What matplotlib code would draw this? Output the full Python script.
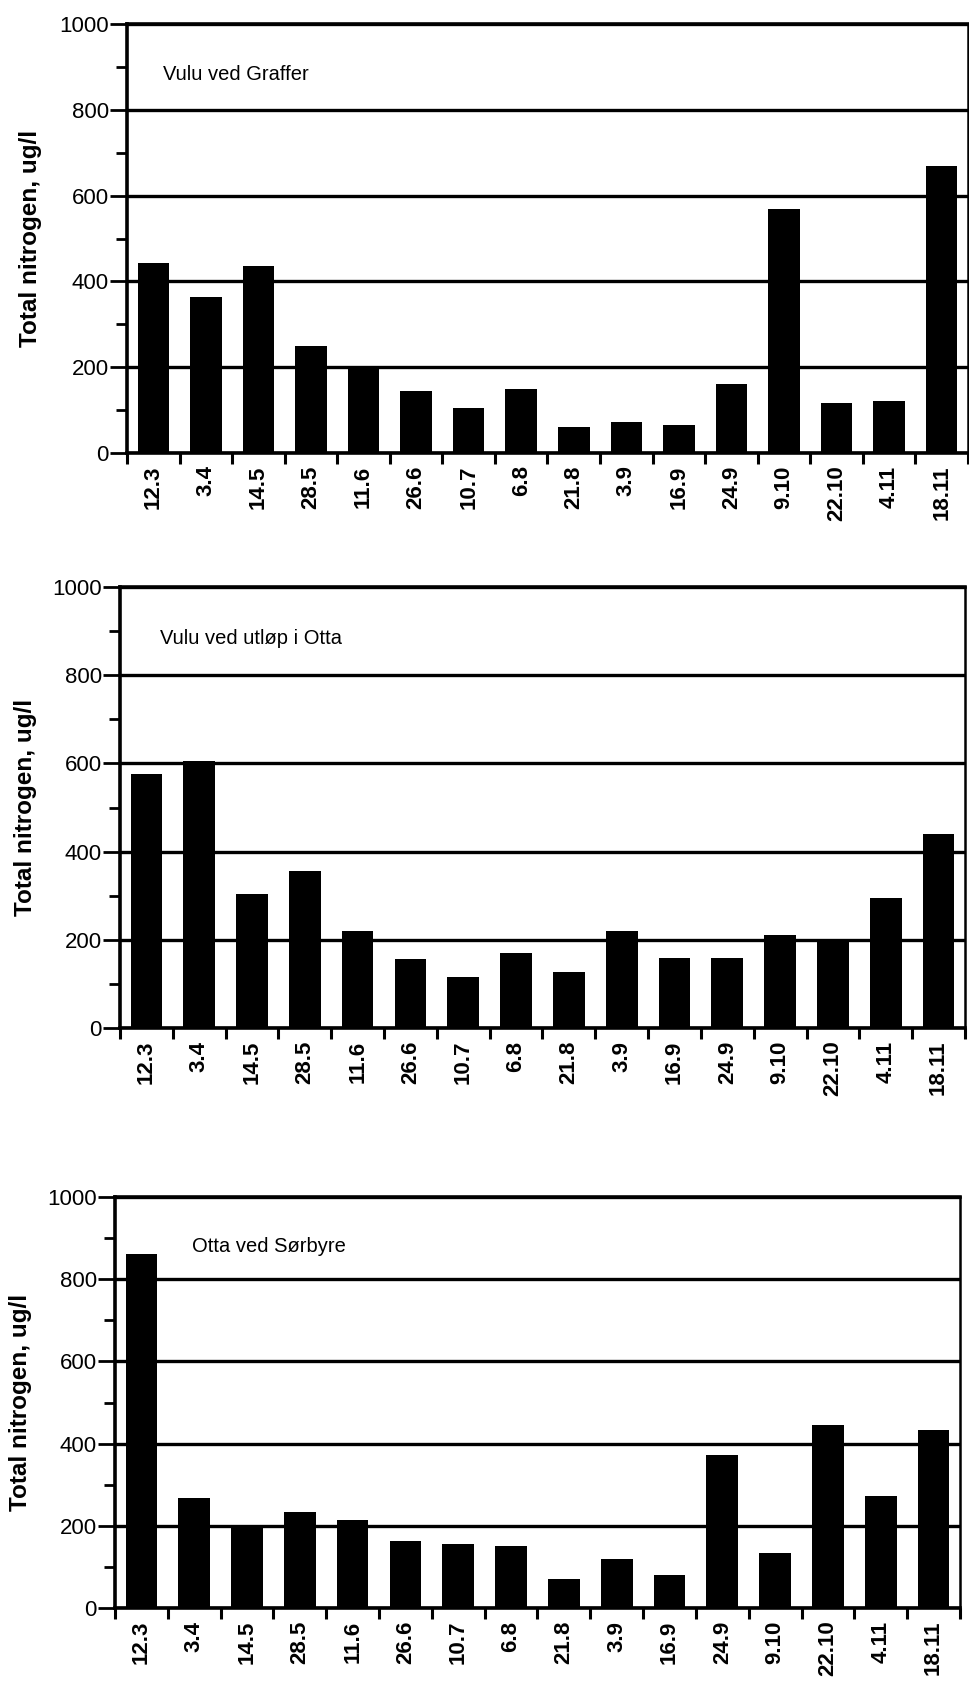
import numpy as np
import matplotlib
matplotlib.use("Agg")
import matplotlib.pyplot as plt
from matplotlib import font_manager

# sampling dates (day.month)
dates = ["12.3", "3.4", "14.5", "28.5", "11.6", "26.6", "10.7", "6.8",
         "21.8", "3.9", "16.9", "24.9", "9.10", "22.10", "4.11", "18.11"]

# total nitrogen, ug/l
vulu_graffer = [444, 364, 437, 249, 200, 144, 106, 150, 61, 73, 66, 160, 568, 116, 122, 670]
vulu_otta = [575, 605, 303, 355, 219, 157, 115, 170, 128, 220, 158, 158, 210, 196, 295, 440]
otta_sorbyre = [862, 268, 198, 233, 215, 162, 155, 150, 70, 120, 80, 372, 135, 446, 273, 432]

titles = ["Vulu ved Graffer", "Vulu ved utløp i Otta", "Otta ved Sørbyre"]
ylabel = "Total nitrogen, ug/l"

# pick a narrow font for the station names if there is one
names = {f.name for f in font_manager.fontManager.ttflist}
if "Liberation Sans Narrow" in names:
    title_font, title_size = "Liberation Sans Narrow", 17
else:
    title_font, title_size = "Liberation Sans", 14.5

fig = plt.figure(figsize=(9.70, 16.91), dpi=100)

# axes boxes in figure fractions: left, bottom, width, height
boxes = [
    (127 / 970, 1 - 453 / 1691, 841 / 970, 429 / 1691),
    (120 / 970, 1 - 1028 / 1691, 845 / 970, 441 / 1691),
    (115 / 970, 1 - 1608 / 1691, 845 / 970, 411 / 1691),
]
# right edge of the rotated y label, axes fraction
label_x = [-0.101, -0.098, -0.098]
title_pos = [(163, 75), (160, 639), (192, 1247)]

series = [vulu_graffer, vulu_otta, otta_sorbyre]
x = np.arange(len(dates))

for i, (vals, box) in enumerate(zip(series, boxes)):
    ax = fig.add_axes(box)
    ax.bar(x, vals, width=0.6, color="black", zorder=3)
    ax.set_xlim(-0.5, len(dates) - 0.5)
    ax.set_ylim(0, 1000)

    ax.set_yticks(np.arange(0, 1001, 200))
    ax.set_yticks(np.arange(100, 1000, 200), minor=True)
    ax.set_yticklabels([str(v) for v in range(0, 1001, 200)],
                       fontfamily="Liberation Sans", fontsize=16)
    ax.tick_params(axis="y", which="major", direction="out", length=12, width=2, pad=1)
    ax.tick_params(axis="y", which="minor", direction="out", length=8, width=2)

    ax.set_xticks(x)
    ax.set_xticklabels(dates, rotation=90, fontfamily="Liberation Sans",
                       fontweight="bold", fontsize=16)
    ax.set_xticks(np.arange(-0.5, len(dates), 1), minor=True)
    ax.tick_params(axis="x", which="major", length=0, pad=9)
    ax.tick_params(axis="x", which="minor", direction="out", length=8, width=2.2)

    ax.grid(axis="y", which="major", color="black", linewidth=2.4, zorder=1)
    ax.set_axisbelow(True)
    for side in ["top", "left", "bottom"]:
        ax.spines[side].set_linewidth(2.6)
    ax.spines["right"].set_linewidth(1.8)

    ax.set_ylabel(ylabel, fontfamily="Liberation Sans", fontweight="bold", fontsize=17.5)
    ax.yaxis.set_label_coords(label_x[i], 0.5)

    tx, ty = title_pos[i]
    fig.text(tx / 970, 1 - ty / 1691, titles[i], fontfamily=title_font,
             fontsize=title_size, va="center", ha="left")

fig.savefig("out.png", dpi=100)
